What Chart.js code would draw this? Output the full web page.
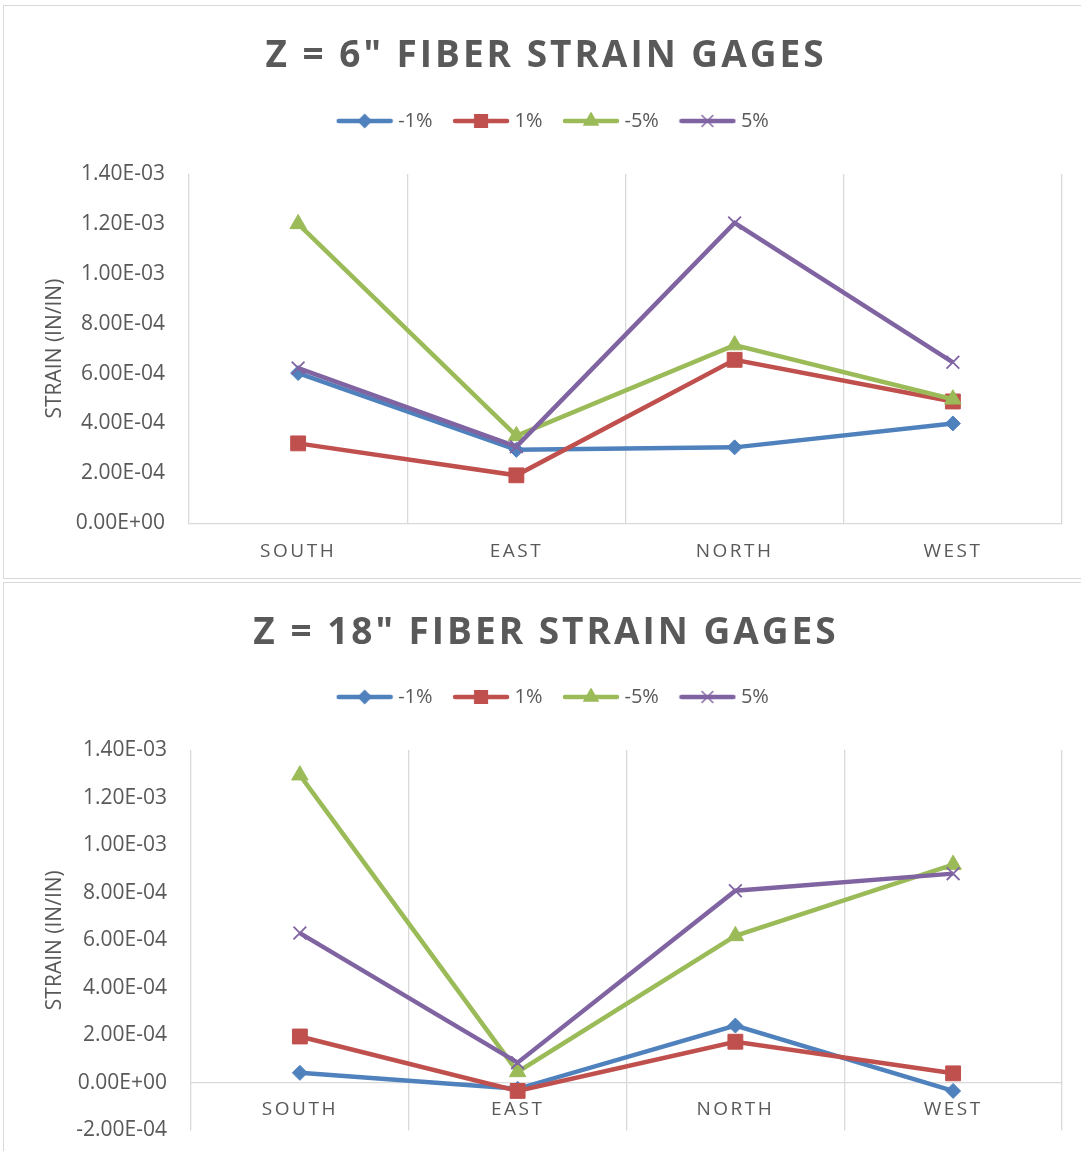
<!DOCTYPE html>
<html>
<head>
<meta charset="utf-8">
<title>Fiber strain gages</title>
<script src="https://cdn.jsdelivr.net/npm/chart.js@4.4.1/dist/chart.umd.min.js"></script>
<style>
  body { margin: 0; background: #fff; overflow: hidden; }
  .panel { position: absolute; left: 3px; width: 1084px; border: 1px solid #d9d9d9; background: #fff; }
  #panel1 { top: 5px; height: 572px; }
  #panel2 { top: 582px; height: 584px; }
  .panel h2 {
    position: absolute; left: 0; right: 0; top: 28px; margin: 0;
    text-align: center; font: bold 37px/1 'Open Sans', sans-serif;
    letter-spacing: 3px; color: #595959; z-index: 2;
  }
</style>
</head>
<body>
<div class="panel" id="panel1">
  <h2>Z = 6" FIBER STRAIN GAGES</h2>
  <canvas id="chart6"></canvas>
</div>
<div class="panel" id="panel2">
  <h2>Z = 18" FIBER STRAIN GAGES</h2>
  <canvas id="chart18"></canvas>
</div>
<script>
// Gage locations and load cases
const categories = ['SOUTH', 'EAST', 'NORTH', 'WEST'];
const seriesNames = ['-1%', '1%', '-5%', '5%'];

// Z = 6" strains (in/in)
const z6Minus1 = [6.02e-4, 2.94e-4, 3.04e-4, 4.0e-4];
const z6Plus1 = [3.2e-4, 1.92e-4, 6.55e-4, 4.88e-4];
const z6Minus5 = [1.2e-3, 3.5e-4, 7.14e-4, 4.97e-4];
const z6Plus5 = [6.22e-4, 3.07e-4, 1.204e-3, 6.45e-4];

// Z = 18" strains (in/in)
const z18Minus1 = [4.2e-5, -2.5e-5, 2.41e-4, -3.4e-5];
const z18Plus1 = [1.95e-4, -3.4e-5, 1.73e-4, 4.0e-5];
const z18Minus5 = [1.294e-3, 4.6e-5, 6.18e-4, 9.18e-4];
const z18Plus5 = [6.3e-4, 8.5e-5, 8.08e-4, 8.8e-4];

// Y axis ranges
const yMin6 = 0, yMax6 = 0.0014;
const yMin18 = -0.0002, yMax18 = 0.0014;
const yStep = 0.0002;

const colors = ['#4f81bd', '#c0504d', '#9bbb59', '#8064a2'];
const markers = ['rectRot', 'rect', 'triangle', 'crossRot'];
const markerSizes = [7.5, 10.5, 9.5, 9];

Chart.defaults.font.family = "'Open Sans', sans-serif";
Chart.defaults.color = '#595959';

// Excel style number format, e.g. 1.40E-03
function sciLabel(v) {
    if (Math.abs(v) < 1e-12) v = 0;
    let parts = v.toExponential(2).split('e');
    let sign = parts[1][0] === '-' ? '-' : '+';
    let exp = parts[1].replace(/[+-]/, '');
    if (exp.length < 2) exp = '0' + exp;
    return parts[0] + 'E' + sign + exp;
}

// category axis with letter spaced labels
class SpacedCategoryScale extends Chart.CategoryScale {
    drawLabels(chartArea) {
        this.ctx.save();
        this.ctx.letterSpacing = '2.5px';
        super.drawLabels(chartArea);
        this.ctx.restore();
    }
}
SpacedCategoryScale.id = 'spacedCategory';
SpacedCategoryScale.defaults = Chart.CategoryScale.defaults;
Chart.register(SpacedCategoryScale);

// legend icon: short line with the marker in the middle
function legendIcon(i) {
    const c = document.createElement('canvas');
    c.width = 58;
    c.height = 22;
    const g = c.getContext('2d');
    g.strokeStyle = colors[i];
    g.fillStyle = colors[i];
    g.lineWidth = 4.5;
    g.lineCap = 'round';
    g.beginPath();
    g.moveTo(3, 11);
    g.lineTo(55, 11);
    g.stroke();
    g.lineWidth = 1.5;
    Chart.helpers.drawPoint(g, {pointStyle: markers[i], radius: markerSizes[i] * 0.85, rotation: 0, borderWidth: 1.5}, 29, 11);
    return c;
}

// adds some room between the legend and the plot, and nudges the legend row
const legendGap = {
    id: 'legendGap',
    beforeInit(chart, args, opts) {
        const fit = chart.legend.fit;
        const draw = chart.legend.draw;
        chart.legend.fit = function () {
            fit.call(this);
            this.height += opts.extra;
        };
        chart.legend.draw = function () {
            this.ctx.save();
            this.ctx.translate(opts.shift, 0);
            draw.call(this);
            this.ctx.restore();
        };
    }
};

function makeDatasets(values) {
    return values.map((data, i) => ({
        label: seriesNames[i],
        data: data,
        borderColor: colors[i],
        backgroundColor: colors[i],
        borderWidth: 4.5,
        tension: 0,
        pointStyle: markers[i],
        pointRadius: markerSizes[i],
        pointHoverRadius: markerSizes[i],
        pointBackgroundColor: colors[i],
        pointBorderColor: colors[i],
        pointBorderWidth: i === 3 ? 1.8 : 1,
        order: 4 - i
    }));
}

function makeChart(id, values, yMin, yMax, setup) {
    const icons = seriesNames.map((n, i) => legendIcon(i));
    const xAxis = {
        type: 'spacedCategory',
        offset: true,
        grid: {offset: true, color: '#d9d9d9', lineWidth: 1.3, drawTicks: false},
        border: {color: '#d9d9d9', width: 1.3},
        ticks: {padding: setup.xPad, font: {size: 19}, color: '#595959'}
    };
    if (setup.xAtZero) xAxis.position = {y: 0};

    return new Chart(document.getElementById(id), {
        type: 'line',
        data: {labels: categories, datasets: makeDatasets(values)},
        options: {
            responsive: true,
            maintainAspectRatio: false,
            animation: false,
            layout: {padding: {top: setup.top, right: 26, bottom: setup.bottom, left: 0}},
            scales: {
                x: xAxis,
                y: {
                    min: yMin,
                    max: yMax,
                    grid: {display: false, drawTicks: false},
                    border: {display: false},
                    ticks: {stepSize: yStep, padding: 24, font: {size: 21}, color: '#595959', callback: v => sciLabel(v)},
                    title: {display: true, text: 'STRAIN (IN/IN)', font: {size: 21}, color: '#595959', padding: {top: 38, bottom: 0}},
                    afterFit(scale) { scale.width = setup.yWidth; }
                }
            },
            plugins: {
                legend: {
                    position: 'top',
                    labels: {
                        usePointStyle: true,
                        pointStyleWidth: 47,
                        padding: 25,
                        font: {size: 20},
                        color: '#595959',
                        generateLabels: chart => chart.data.datasets.map((ds, i) => ({
                            text: ds.label,
                            pointStyle: icons[i],
                            fillStyle: colors[i],
                            strokeStyle: colors[i],
                            lineWidth: 0,
                            hidden: false,
                            datasetIndex: i,
                            fontColor: '#595959'
                        }))
                    }
                },
                legendGap: {extra: setup.gap, shift: 22},
                tooltip: {enabled: false}
            }
        },
        plugins: [legendGap]
    });
}

makeChart('chart6', [z6Minus1, z6Plus1, z6Minus5, z6Plus5], yMin6, yMax6,
    {top: 80, bottom: -2, yWidth: 185, xAtZero: false, xPad: 17, gap: 33});
makeChart('chart18', [z18Minus1, z18Plus1, z18Minus5, z18Plus5], yMin18, yMax18,
    {top: 79, bottom: 4, yWidth: 187, xAtZero: true, xPad: 15, gap: 33});
</script>
</body>
</html>
